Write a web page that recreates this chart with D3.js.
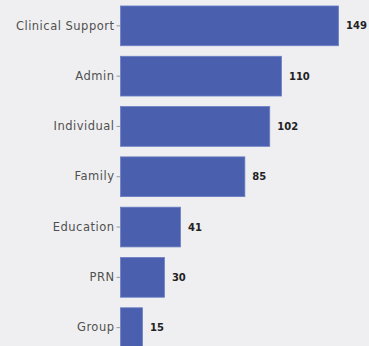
<!DOCTYPE html>
<html>
<head>
<meta charset="utf-8">
<script src="https://cdn.jsdelivr.net/npm/d3@7"></script>
<style>
  html, body { margin: 0; padding: 0; background: #efeff1; }
  svg { display: block; }
</style>
</head>
<body>
<svg id="chart" width="369" height="346"></svg>
<script>
const categories = ["Clinical Support", "Admin", "Individual", "Family", "Education", "PRN", "Group"];
const values = [149, 110, 102, 85, 41, 30, 15];

const svg = d3.select("#chart");
const left = 120.5;

const x = d3.scaleLinear().domain([0, 149]).range([left, 338.5]);
const y = d3.scaleBand().domain(categories).range([0.7, 352.8]).paddingInner(0.21).paddingOuter(0.105);

const data = categories.map((c, i) => ({ c, v: values[i] }));

svg.append("rect").attr("width", 369).attr("height", 346).attr("fill", "#efeff1");

svg.selectAll("rect.bar").data(data).join("rect")
  .attr("class", "bar")
  .attr("x", x(0))
  .attr("y", d => y(d.c))
  .attr("width", d => x(d.v) - x(0))
  .attr("height", y.bandwidth())
  .attr("fill", "#4a5fae")
  .attr("stroke", "#6a7ec4")
  .attr("stroke-width", 0.8);

const axis = svg.append("g")
  .attr("transform", `translate(${left},0)`)
  .call(d3.axisLeft(y).tickSize(4).tickPadding(2));
axis.select(".domain").remove();
axis.selectAll(".tick line").attr("stroke", "#999");
axis.selectAll(".tick text")
  .attr("fill", "#505050")
  .style("font-family", "'DejaVu Sans', sans-serif")
  .style("font-size", "11.5px")
  .style("letter-spacing", "0.5px");

svg.selectAll("text.val").data(data).join("text")
  .attr("class", "val")
  .attr("x", d => x(d.v) + 7.5)
  .attr("y", d => y(d.c) + y.bandwidth() / 2)
  .attr("dy", "0.35em")
  .attr("fill", "#222")
  .style("font-family", "'DejaVu Sans', sans-serif")
  .style("font-weight", "bold")
  .style("font-size", "10px")
  .text(d => d.v);
</script>
</body>
</html>
